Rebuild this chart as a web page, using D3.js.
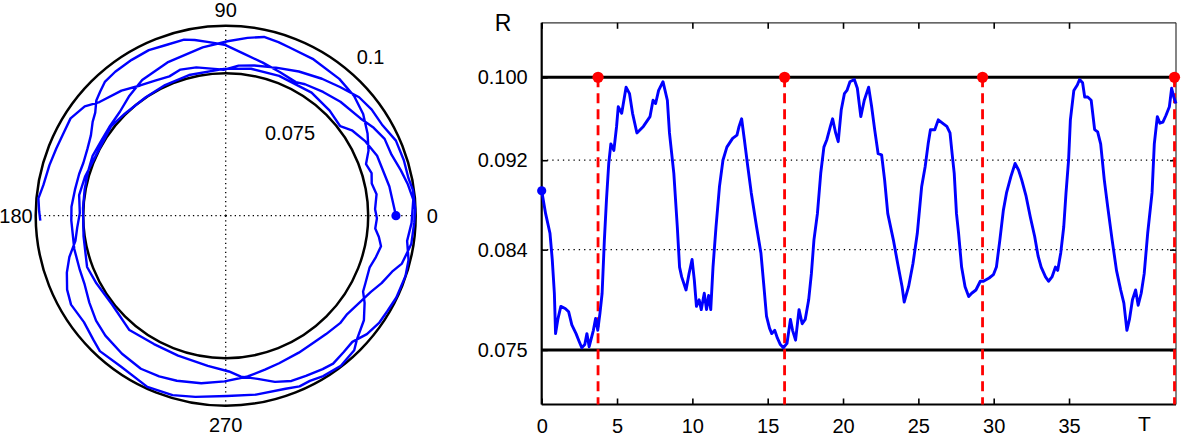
<!DOCTYPE html>
<html>
<head>
<meta charset="utf-8">
<script src="https://cdn.jsdelivr.net/npm/d3@7"></script>
<style>
  body { margin: 0; background: #fff; }
  svg { display: block; font-family: "Liberation Sans", Arial, sans-serif; }
</style>
</head>
<body>
<svg></svg>
<script>
// time samples, radius R(T) and polar angle (deg, unwrapped) of the trajectory
const tValues = [0, 0.26, 0.55, 0.7, 0.84, 0.92, 1.07, 1.27, 1.56, 1.79, 2.0, 2.28, 2.48, 2.66, 2.86, 3.0, 3.15, 3.43, 3.58, 3.72,
  3.87, 4.01, 4.16, 4.3, 4.45, 4.59, 4.79, 4.97, 5.08, 5.31, 5.6, 5.83, 6.03, 6.32, 6.75, 7.19, 7.39, 7.56, 7.76, 8.05,
  8.34, 8.48, 8.77, 9.0, 9.15, 9.29, 9.58, 9.78, 9.98, 10.13, 10.27, 10.45, 10.59, 10.79, 10.94, 11.08, 11.22, 11.37, 11.57, 11.8,
  12.03, 12.29, 12.67, 12.96, 13.1, 13.27, 13.45, 13.68, 13.91, 14.26, 14.55, 14.75, 14.92, 15.12, 15.27, 15.47, 15.64, 15.84, 16.04, 16.28,
  16.51, 16.65, 16.85, 17.08, 17.29, 17.49, 17.72, 17.9, 18.07, 18.3, 18.52, 18.73, 18.93, 19.16, 19.31, 19.51, 19.68, 19.88, 20.09, 20.26,
  20.46, 20.75, 20.95, 21.18, 21.41, 21.7, 21.9, 22.1, 22.33, 22.56, 22.76, 22.97, 23.34, 23.63, 23.92, 24.06, 24.35, 24.64, 24.93, 25.22,
  25.45, 25.65, 25.8, 26.09, 26.32, 26.6, 26.89, 27.1, 27.24, 27.38, 27.53, 27.67, 27.87, 28.1, 28.34, 28.54, 28.82, 29.11, 29.32, 29.7,
  29.98, 30.18, 30.41, 30.64, 30.85, 31.14, 31.42, 31.65, 31.86, 32.15, 32.43, 32.72, 32.95, 33.15, 33.44, 33.64, 33.87, 34.1, 34.25, 34.45,
  34.65, 34.8, 34.97, 35.09, 35.32, 35.55, 35.7, 35.9, 36.04, 36.24, 36.47, 36.7, 36.9, 37.1, 37.34, 37.57, 37.86, 38.15, 38.43, 38.64,
  38.84, 39.01, 39.21, 39.42, 39.59, 39.79, 39.99, 40.22, 40.51, 40.66, 40.86, 41.03, 41.23, 41.43, 41.66, 41.81, 41.95, 42.1];

const rValues = [0.0896, 0.0875, 0.0857, 0.0833, 0.0802, 0.0765, 0.0778, 0.079, 0.0788, 0.0785, 0.0773, 0.0765, 0.0758, 0.0752, 0.0755, 0.0765, 0.0753, 0.0768, 0.0779, 0.0768,
  0.0784, 0.0802, 0.0851, 0.0888, 0.0921, 0.0939, 0.0933, 0.0955, 0.0973, 0.0967, 0.0991, 0.0985, 0.0967, 0.0949, 0.0955, 0.0964, 0.0979, 0.0976, 0.0988, 0.0996,
  0.0979, 0.0949, 0.0912, 0.0863, 0.0826, 0.0817, 0.0805, 0.082, 0.0833, 0.0814, 0.079, 0.0796, 0.0787, 0.0802, 0.0787, 0.08, 0.0787, 0.0826, 0.0863, 0.09,
  0.0924, 0.0936, 0.0944, 0.0947, 0.0955, 0.0962, 0.0943, 0.0918, 0.0894, 0.0863, 0.0839, 0.0808, 0.0781, 0.077, 0.0765, 0.0768, 0.0761, 0.0755, 0.0752, 0.0756,
  0.0778, 0.0768, 0.0759, 0.0787, 0.0774, 0.0778, 0.0796, 0.082, 0.0851, 0.0875, 0.0912, 0.0936, 0.0943, 0.0955, 0.0962, 0.0949, 0.0941, 0.097, 0.0985, 0.0988,
  0.0996, 0.0998, 0.099, 0.0964, 0.0979, 0.0991, 0.0973, 0.0952, 0.093, 0.0929, 0.0906, 0.0875, 0.0851, 0.0829, 0.0808, 0.0794, 0.0808, 0.0829, 0.0857, 0.09,
  0.0918, 0.0939, 0.0952, 0.0952, 0.0961, 0.0958, 0.0955, 0.0949, 0.093, 0.0912, 0.0875, 0.0857, 0.0826, 0.0808, 0.0799, 0.0802, 0.0805, 0.0813, 0.0813, 0.0816,
  0.0819, 0.0826, 0.0851, 0.0878, 0.0894, 0.0909, 0.0921, 0.0915, 0.0906, 0.0891, 0.0872, 0.0854, 0.0836, 0.0826, 0.0817, 0.0813, 0.0817, 0.0826, 0.0823, 0.0839,
  0.0863, 0.0894, 0.0924, 0.0961, 0.0988, 0.0993, 0.0998, 0.0995, 0.0982, 0.0982, 0.0979, 0.0952, 0.095, 0.0939, 0.0906, 0.0881, 0.0851, 0.0823, 0.0805, 0.0793,
  0.0768, 0.0778, 0.0796, 0.0805, 0.0791, 0.0802, 0.082, 0.0857, 0.0894, 0.0939, 0.0964, 0.0958, 0.0959, 0.0965, 0.0973, 0.099, 0.0982, 0.0976];

const thetaValues = [0, 10.1, 21.6, 28.0, 34.1, 38.0, 45.3, 55.1, 69.1, 80.2, 90.7, 104.6, 114.9, 124.2, 134.7, 142.1, 150.0, 164.3, 172.0, 179.0,
  184.6, 189.5, 194.8, 199.7, 205.0, 209.9, 216.9, 223.2, 227.1, 235.2, 245.4, 253.5, 260.5, 270.4, 279.6, 289.1, 293.4, 297.0, 301.3, 307.5,
  313.7, 316.7, 322.9, 327.9, 331.1, 334.1, 340.3, 344.6, 348.9, 352.1, 355.1, 359.0, 362.5, 368.1, 372.4, 376.3, 380.2, 384.5, 390.1, 396.5,
  403.0, 410.3, 421.0, 429.2, 433.1, 437.9, 443.0, 449.4, 457.8, 470.8, 481.6, 489.1, 495.4, 502.8, 508.4, 515.8, 522.2, 529.6, 537.0, 548.3,
  560.3, 567.6, 578.0, 589.9, 600.8, 611.2, 623.2, 631.2, 635.4, 641.1, 646.5, 651.7, 656.6, 662.3, 666.0, 670.9, 675.1, 680.0, 685.2, 689.4,
  694.4, 701.5, 706.4, 712.1, 717.8, 724.9, 729.7, 734.6, 740.2, 745.8, 750.7, 755.8, 764.8, 771.8, 778.9, 782.3, 789.4, 796.4, 803.5, 810.4,
  815.5, 820.0, 823.3, 829.8, 834.9, 841.1, 847.5, 852.1, 855.2, 858.3, 861.7, 864.8, 869.2, 874.3, 879.6, 884.1, 890.2, 896.7, 901.7, 912.4,
  920.3, 926.0, 932.5, 939.0, 944.9, 953.1, 961.0, 967.5, 973.5, 981.7, 989.6, 997.8, 1004.3, 1009.9, 1018.1, 1023.8, 1030.3, 1036.8, 1041.0, 1046.7,
  1052.3, 1056.6, 1061.4, 1064.8, 1071.3, 1077.8, 1082.0, 1087.7, 1091.6, 1097.3, 1103.8, 1110.3, 1116.0, 1121.6, 1128.4, 1134.9, 1143.1, 1151.3, 1159.2, 1165.1,
  1170.8, 1175.6, 1181.2, 1187.2, 1192.0, 1197.6, 1203.3, 1209.8, 1218.0, 1222.2, 1227.9, 1232.7, 1238.3, 1244.0, 1250.5, 1254.7, 1258.7, 1261.5];

// times marked with red dashed lines
const markTimes = [3.74, 16.12, 29.26, 42.0];
// inner and outer bounds of R
const rBounds = [0.075, 0.1];

const xTickValues = [0, 5, 10, 15, 20, 25, 30, 35];
const yTickValues = [0.075, 0.0842, 0.0924, 0.1];
const angleTicks = [0, 90, 180, 270];
const angleLabels = ['0', '90', '180', '270'];
const radialLabels = ['0.075', '0.1'];

const width = 1181;
const height = 437;

const svg = d3.select('svg')
  .attr('width', width)
  .attr('height', height);

const pts = tValues.map((t, i) => ({ t: t, r: rValues[i], th: thetaValues[i] }));

// ---------- polar plot ----------
const cx = 225.7, cy = 215.7;
const rScale = d3.scaleLinear().domain([0, 0.1]).range([0, 190]);
const toXY = (deg, rad) => [cx + rad * Math.cos(deg * Math.PI / 180), cy - rad * Math.sin(deg * Math.PI / 180)];

const polar = svg.append('g');

// dotted spokes
angleTicks.forEach(a => {
  const p = toXY(a, rScale(rBounds[1]));
  polar.append('line')
    .attr('x1', cx).attr('y1', cy)
    .attr('x2', p[0]).attr('y2', p[1])
    .attr('stroke', '#000')
    .attr('stroke-width', 1.3)
    .attr('stroke-dasharray', '1.3,3.2');
});

polar.selectAll('circle.ring')
  .data(rBounds)
  .enter()
  .append('circle')
  .attr('class', 'ring')
  .attr('cx', cx).attr('cy', cy)
  .attr('r', d => rScale(d))
  .attr('fill', 'none')
  .attr('stroke', '#000')
  .attr('stroke-width', 2.5);

const radial = d3.lineRadial()
  .angle(d => Math.PI / 2 - d.th * Math.PI / 180)
  .radius(d => rScale(d.r));

polar.append('path')
  .datum(pts)
  .attr('transform', `translate(${cx},${cy})`)
  .attr('d', radial)
  .attr('fill', 'none')
  .attr('stroke', '#0000ff')
  .attr('stroke-width', 2.4)
  .attr('stroke-linejoin', 'round');

const start = toXY(pts[0].th, rScale(pts[0].r));
polar.append('circle')
  .attr('cx', start[0]).attr('cy', start[1])
  .attr('r', 4.6)
  .attr('fill', '#0000ff');

// angle labels
const angleLabelPos = [
  { dx: 201, dy: 7, anchor: 'start' },
  { dx: 0, dy: -199, anchor: 'middle' },
  { dx: -193, dy: 7, anchor: 'end' },
  { dx: 0, dy: 216, anchor: 'middle' }
];
polar.selectAll('text.ang')
  .data(angleLabels)
  .enter()
  .append('text')
  .attr('class', 'ang')
  .attr('x', (d, i) => cx + angleLabelPos[i].dx)
  .attr('y', (d, i) => cy + angleLabelPos[i].dy)
  .attr('text-anchor', (d, i) => angleLabelPos[i].anchor)
  .attr('font-size', 20)
  .text(d => d);

// radial labels
const radialLabelPos = [[39.3, -75.7], [131, -151.7]];
polar.selectAll('text.rad')
  .data(radialLabels)
  .enter()
  .append('text')
  .attr('class', 'rad')
  .attr('x', (d, i) => cx + radialLabelPos[i][0])
  .attr('y', (d, i) => cy + radialLabelPos[i][1])
  .attr('font-size', 20)
  .text(d => d);

// ---------- R(T) plot ----------
const plotLeft = 541.7, plotRight = 1176, plotTop = 22.8, plotBottom = 404.5;

const xScale = d3.scaleLinear().domain([0, 42.1]).range([plotLeft, plotRight]);
const yScale = d3.scaleLinear().domain([0.07, 0.105]).range([plotBottom, plotTop]);

const plot = svg.append('g');

// dotted grid at the inner ticks
plot.selectAll('line.grid')
  .data(yTickValues.slice(1, 3))
  .enter()
  .append('line')
  .attr('class', 'grid')
  .attr('x1', plotLeft).attr('x2', plotRight)
  .attr('y1', d => yScale(d)).attr('y2', d => yScale(d))
  .attr('stroke', '#000')
  .attr('stroke-width', 1.2)
  .attr('stroke-dasharray', '1.3,4');

// box: thin top and right
plot.append('line')
  .attr('x1', plotLeft).attr('x2', plotRight).attr('y1', plotTop).attr('y2', plotTop)
  .attr('stroke', '#333').attr('stroke-width', 1.2);
plot.append('line')
  .attr('x1', plotRight).attr('x2', plotRight).attr('y1', plotTop).attr('y2', plotBottom)
  .attr('stroke', '#333').attr('stroke-width', 1.2);

// axes
const xAxis = d3.axisBottom(xScale)
  .tickValues(xTickValues)
  .tickSize(-6)
  .tickPadding(14)
  .tickFormat(d3.format('d'));

const gx = plot.append('g')
  .attr('transform', `translate(0, ${plotBottom})`)
  .call(xAxis);

const xAxisTop = d3.axisTop(xScale)
  .tickValues(xTickValues)
  .tickSize(-6)
  .tickFormat('');
const gxt = plot.append('g')
  .attr('transform', `translate(0, ${plotTop})`)
  .call(xAxisTop);

const yAxis = d3.axisLeft(yScale)
  .tickValues(yTickValues)
  .tickSize(-6)
  .tickPadding(14)
  .tickFormat(d3.format('.3f'));
const gy = plot.append('g')
  .attr('transform', `translate(${plotLeft}, 0)`)
  .call(yAxis);

const yAxisRight = d3.axisRight(yScale)
  .tickValues(yTickValues)
  .tickSize(-6)
  .tickFormat('');
const gyr = plot.append('g')
  .attr('transform', `translate(${plotRight}, 0)`)
  .call(yAxisRight);

[gx, gxt, gy, gyr].forEach(g => {
  g.select('.domain').remove();
  g.selectAll('.tick line').attr('stroke', '#000').attr('stroke-width', 1.6);
  g.selectAll('.tick text')
    .attr('fill', '#000')
    .style('font-family', '"Liberation Sans", Arial, sans-serif')
    .style('font-size', '20px');
});

plot.append('line')
  .attr('x1', plotLeft).attr('x2', plotRight).attr('y1', plotBottom).attr('y2', plotBottom)
  .attr('stroke', '#000').attr('stroke-width', 2.2);
plot.append('line')
  .attr('x1', plotLeft).attr('x2', plotLeft).attr('y1', plotTop).attr('y2', plotBottom)
  .attr('stroke', '#000').attr('stroke-width', 2.2);

// bounds
plot.selectAll('line.bound')
  .data(rBounds)
  .enter()
  .append('line')
  .attr('class', 'bound')
  .attr('x1', plotLeft).attr('x2', plotRight)
  .attr('y1', d => yScale(d)).attr('y2', d => yScale(d))
  .attr('stroke', '#000')
  .attr('stroke-width', 3);

// red markers
plot.selectAll('line.mark')
  .data(markTimes)
  .enter()
  .append('line')
  .attr('class', 'mark')
  .attr('x1', d => xScale(d)).attr('x2', d => xScale(d))
  .attr('y1', yScale(rBounds[1])).attr('y2', plotBottom)
  .attr('stroke', '#ff0000')
  .attr('stroke-width', 2.8)
  .attr('stroke-dasharray', '10,6');

const line = d3.line()
  .x(d => xScale(d.t))
  .y(d => yScale(d.r));

plot.append('path')
  .datum(pts)
  .attr('d', line)
  .attr('fill', 'none')
  .attr('stroke', '#0000ff')
  .attr('stroke-width', 2.9)
  .attr('stroke-linejoin', 'round');

plot.selectAll('circle.mark')
  .data(markTimes)
  .enter()
  .append('circle')
  .attr('class', 'mark')
  .attr('cx', d => xScale(d))
  .attr('cy', yScale(rBounds[1]))
  .attr('r', 5.6)
  .attr('fill', '#ff0000');

plot.append('circle')
  .attr('cx', xScale(pts[0].t))
  .attr('cy', yScale(pts[0].r))
  .attr('r', 4.6)
  .attr('fill', '#0000ff');

// axis names
plot.append('text')
  .attr('x', plotLeft - 47)
  .attr('y', 31)
  .attr('font-size', 23)
  .text('R');

plot.append('text')
  .attr('x', xScale(40))
  .attr('y', 431)
  .attr('text-anchor', 'middle')
  .attr('font-size', 21)
  .text('T');
</script>
</body>
</html>
